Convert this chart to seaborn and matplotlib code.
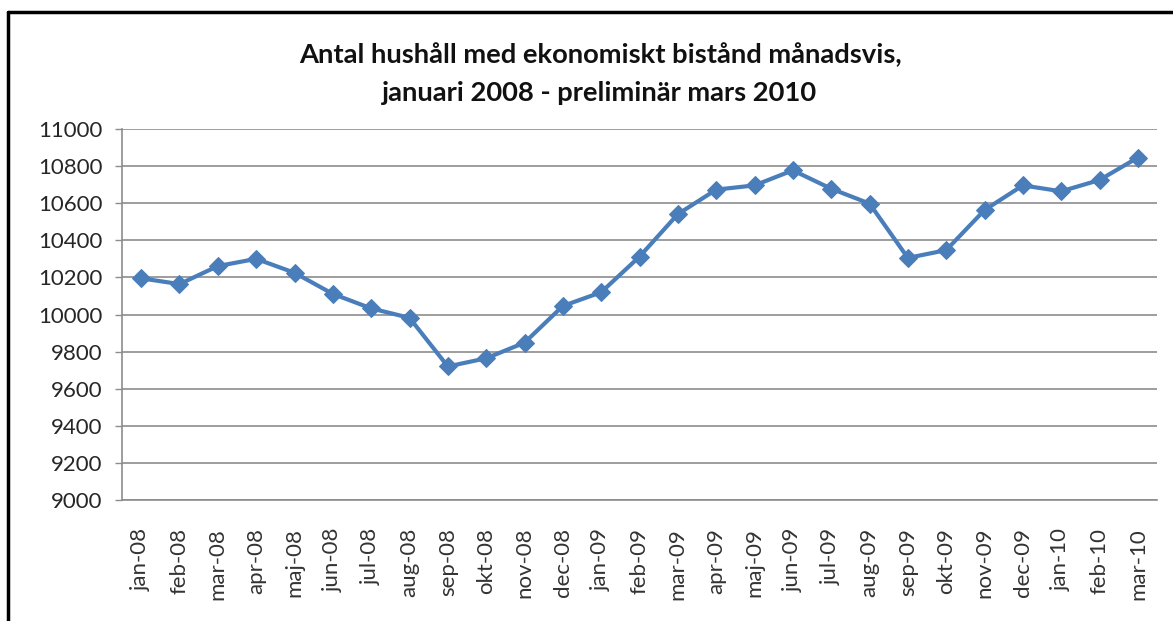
import matplotlib
matplotlib.use("Agg")
import matplotlib.pyplot as plt
from matplotlib.lines import Line2D
import seaborn as sns
import pandas as pd
import numpy as np

months = ["jan-08", "feb-08", "mar-08", "apr-08", "maj-08", "jun-08", "jul-08", "aug-08",
          "sep-08", "okt-08", "nov-08", "dec-08", "jan-09", "feb-09", "mar-09", "apr-09",
          "maj-09", "jun-09", "jul-09", "aug-09", "sep-09", "okt-09", "nov-09", "dec-09",
          "jan-10", "feb-10", "mar-10"]
households = [10195, 10164, 10261, 10300, 10225, 10111, 10033, 9982,
              9720, 9764, 9848, 10046, 10120, 10312, 10541, 10673,
              10696, 10777, 10678, 10598, 10305, 10347, 10563, 10696,
              10664, 10725, 10846]
y_ticks = [9000, 9200, 9400, 9600, 9800, 10000, 10200, 10400, 10600, 10800, 11000]
title_lines = ["Antal hushåll med ekonomiskt bistånd månadsvis,",
               "januari 2008 - preliminär mars 2010"]

sns.set_theme(style="white")
plt.rcParams['font.family'] = ['Lato', 'DejaVu Sans']

df = pd.DataFrame({"pos": np.arange(len(months)), "value": households})

fig = plt.figure(figsize=(11.73, 6.21), dpi=100)
ax = fig.add_axes([0.104, 0.1948, 0.8824, 0.5975])

line_color = "#4A7EBB"
sns.lineplot(data=df, x="pos", y="value", ax=ax, color=line_color, linewidth=3,
             marker="D", markersize=9, markeredgecolor=line_color,
             markerfacecolor=line_color)

ax.set_xlim(-0.5, len(months) - 0.5)
ax.set_ylim(9000, 11000)
ax.set_yticks(y_ticks)
ax.set_yticklabels([str(v) for v in y_ticks], fontsize=16, color="#262626")
ax.set_xticks(np.arange(len(months)))
ax.set_xticklabels(months, rotation=90, fontsize=16, color="#333333")
ax.set_xticks(np.arange(len(months) + 1) - 0.5, minor=True)
ax.tick_params(axis="x", which="major", length=0, pad=20)
ax.tick_params(axis="x", which="minor", length=5, width=1, color="#8c8c8c", direction="out")
ax.tick_params(axis="y", which="major", length=5, width=1, color="#8c8c8c", direction="out", left=True, pad=9)
ax.set_xlabel("")
ax.set_ylabel("")

ax.yaxis.grid(True, color="#8c8c8c", linewidth=1.2)
ax.xaxis.grid(False)
ax.set_axisbelow(True)
for side in ["top", "right"]:
    ax.spines[side].set_visible(False)
for side in ["left", "bottom"]:
    ax.spines[side].set_color("#8c8c8c")
    ax.spines[side].set_linewidth(1.2)

fig.text(0.5115, 0.911, title_lines[0], ha="center", va="center", fontsize=19.7,
         fontweight="bold", color="#111111")
fig.text(0.5115, 0.851, title_lines[1], ha="center", va="center", fontsize=19.7,
         fontweight="bold", color="#111111")

# outer frame (left and top edges visible)
fig.add_artist(Line2D([8 / 1173, 8 / 1173], [0, 1 - 12 / 621], transform=fig.transFigure,
                      color="black", linewidth=2.5))
fig.add_artist(Line2D([8 / 1173, 1], [1 - 12 / 621, 1 - 12 / 621], transform=fig.transFigure,
                      color="black", linewidth=2.5))

fig.savefig("out.png", dpi=100, facecolor="white")
